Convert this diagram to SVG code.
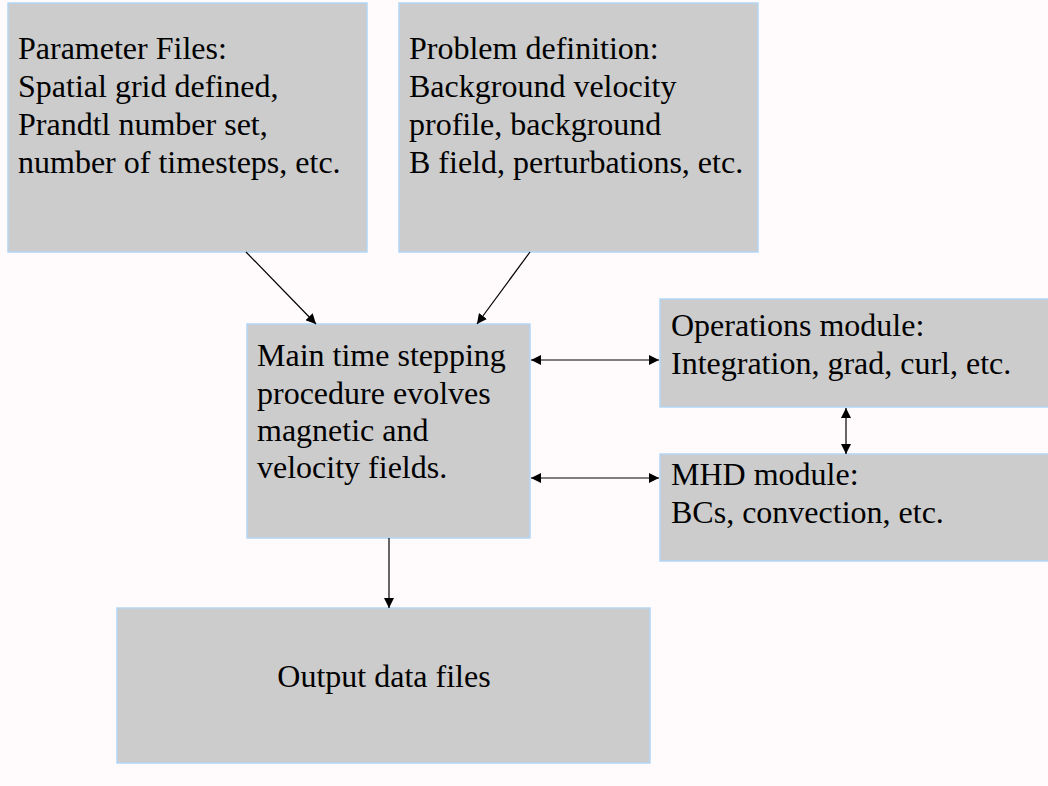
<svg xmlns="http://www.w3.org/2000/svg" width="1048" height="786" viewBox="0 0 1048 786">
<style>
.box{fill:#cccccc;stroke:#b3d6f5;stroke-width:1.5}
.t{font-size:32px;fill:#000}
.c{fill:none;stroke:#000;stroke-width:1.2}
</style>
<defs>
<marker id="ah" viewBox="0 0 10 10" refX="10" refY="5" markerWidth="10" markerHeight="10" markerUnits="userSpaceOnUse" orient="auto-start-reverse">
<path d="M0,0 L10,5 L0,10 z" fill="#000"/>
</marker>
</defs>
<rect x="0" y="0" width="1048" height="786" fill="#fffbfc"/>
<g font-family="Liberation Serif, Tinos, DejaVu Serif, serif">
<g id="param">
<rect class="box" x="8" y="3" width="359" height="249"/>
<text class="t" x="18" y="59">Parameter Files:</text>
<text class="t" x="18" y="97">Spatial grid defined,</text>
<text class="t" x="18" y="135">Prandtl number set,</text>
<text class="t" x="18" y="173">number of timesteps, etc.</text>
</g>
<g id="problem">
<rect class="box" x="399" y="3" width="359" height="249"/>
<text class="t" x="409" y="59">Problem definition:</text>
<text class="t" x="409" y="97">Background velocity</text>
<text class="t" x="409" y="135">profile, background</text>
<text class="t" x="409" y="173">B field, perturbations, etc.</text>
</g>
<g id="main">
<rect class="box" x="247" y="324" width="283" height="214"/>
<text class="t" x="257" y="366">Main time stepping</text>
<text class="t" x="257" y="404">procedure evolves</text>
<text class="t" x="257" y="441">magnetic and</text>
<text class="t" x="257" y="478">velocity fields.</text>
</g>
<g id="ops">
<rect class="box" x="660" y="299" width="400" height="108"/>
<text class="t" x="671" y="336">Operations module:</text>
<text class="t" x="671" y="374">Integration, grad, curl, etc.</text>
</g>
<g id="mhd">
<rect class="box" x="660" y="454" width="400" height="107"/>
<text class="t" x="671" y="485">MHD module:</text>
<text class="t" x="671" y="523">BCs, convection, etc.</text>
</g>
<g id="output">
<rect class="box" x="117" y="608" width="533" height="155"/>
<text class="t" x="384" y="687" text-anchor="middle">Output data files</text>
</g>
</g>
<g id="connectors">
<line class="c" x1="246" y1="252" x2="316" y2="324" marker-end="url(#ah)"/>
<line class="c" x1="530" y1="252" x2="477" y2="324" marker-end="url(#ah)"/>
<line class="c" x1="531" y1="360" x2="659" y2="360" marker-start="url(#ah)" marker-end="url(#ah)"/>
<line class="c" x1="531" y1="478" x2="659" y2="478" marker-start="url(#ah)" marker-end="url(#ah)"/>
<line class="c" x1="846" y1="408" x2="846" y2="454" marker-start="url(#ah)" marker-end="url(#ah)"/>
<line class="c" x1="389" y1="538" x2="389" y2="608" marker-end="url(#ah)"/>
</g>
</svg>
